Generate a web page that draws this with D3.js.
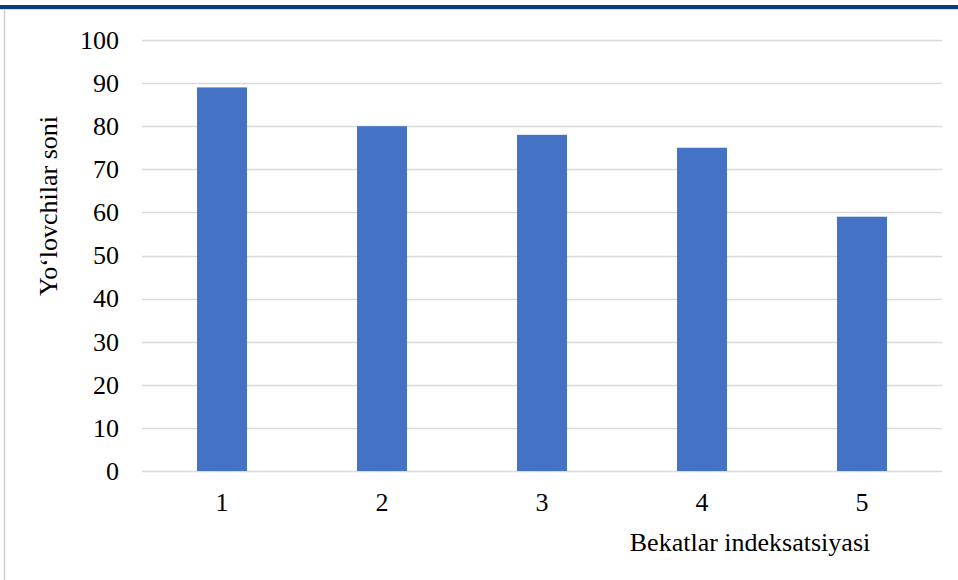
<!DOCTYPE html>
<html><head><meta charset="utf-8">
<script src="https://cdn.jsdelivr.net/npm/d3@7"></script>
<style>body{margin:0;background:#fff}svg{display:block}
text{font-family:"Liberation Serif",Tinos,"Times New Roman",serif}</style>
</head><body>
<script>
const categories = ["1","2","3","4","5"];
const values = [89, 80, 78, 75, 59];
const yTicks = [0,10,20,30,40,50,60,70,80,90,100];
const yTitle = "Yo\u2018lovchilar soni";
const xTitle = "Bekatlar indeksatsiyasi";

(function(){
const W = 958, H = 580;
const FONT = '"Liberation Serif", Tinos, "Times New Roman", serif';
const fs = 26;
const svg = d3.select("body").append("svg").attr("width", W).attr("height", H)
  .attr("font-family", FONT).style("font-family", FONT);

function styleText(sel){
  sel.attr("font-family", FONT).style("font-family", FONT)
     .attr("font-size", fs).style("font-size", fs + "px").attr("fill", "#000");
}

// page decoration
svg.append("rect").attr("x",0).attr("y",5).attr("width",W).attr("height",4).attr("fill","#0b3d7e");
svg.append("line").attr("x1",0).attr("x2",W).attr("y1",9.5).attr("y2",9.5).attr("stroke","#d9d9d9");
svg.append("line").attr("x1",4.5).attr("x2",4.5).attr("y1",10).attr("y2",H).attr("stroke","#d0d0d0").attr("stroke-width",1.5);

const mLeft = 142, mRight = 942, mTop = 40, mBottom = 471;
const x = d3.scaleBand().domain(categories).range([mLeft, mRight]).paddingInner(0.6875).paddingOuter(0.34375);
const y = d3.scaleLinear().domain([0,100]).range([mBottom, mTop]);

// gridlines
svg.append("g").selectAll("line").data(yTicks).join("line")
  .attr("x1", mLeft).attr("x2", mRight)
  .attr("y1", d => Math.round(y(d))+0.5).attr("y2", d => Math.round(y(d))+0.5)
  .attr("stroke", "#d9d9d9").attr("stroke-width", 1.3);

// bars
svg.append("g").selectAll("rect").data(values).join("rect")
  .attr("x", (d,i) => x(categories[i])).attr("width", x.bandwidth())
  .attr("y", d => y(d)).attr("height", d => y(0) - y(d))
  .attr("fill", "#4472c4");

// y axis
const yAxis = d3.axisLeft(y).tickValues(yTicks).tickSize(0).tickPadding(23);
const gy = svg.append("g").attr("transform", `translate(${mLeft},0)`).call(yAxis);
gy.select(".domain").remove();
gy.attr("font-family", FONT).attr("font-size", fs);
styleText(gy.selectAll("text"));

// x axis
const xAxis = d3.axisBottom(x).tickSize(0).tickPadding(22);
const gx = svg.append("g").attr("transform", `translate(0,${mBottom})`).call(xAxis);
gx.select(".domain").remove();
gx.attr("font-family", FONT).attr("font-size", fs);
styleText(gx.selectAll("text"));

// titles
styleText(svg.append("text").attr("transform", "translate(57,206) rotate(-90)")
  .attr("text-anchor","middle").text(yTitle));
styleText(svg.append("text").attr("x", 750).attr("y", 551).attr("text-anchor","middle").text(xTitle));
})();
</script>
</body></html>
